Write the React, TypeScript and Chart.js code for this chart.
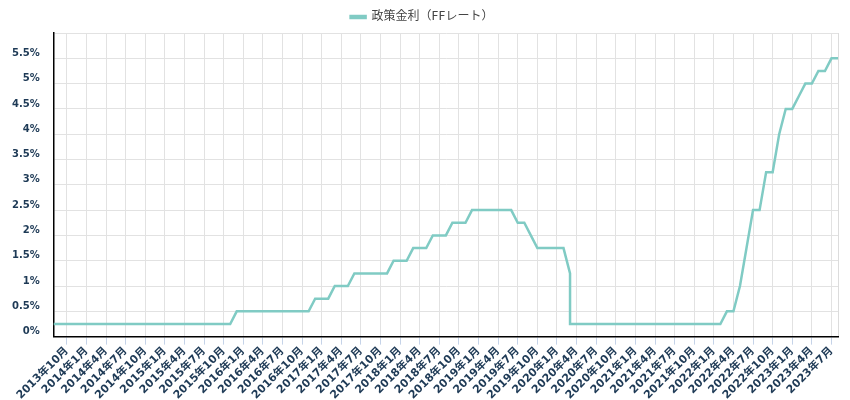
import React, { useEffect, useRef } from "react";
import { Chart, registerables } from "chart.js";

Chart.register(...registerables);

// Monthly categories from 2013年8月 to 2023年8月
const startYear = 2013;
const startMonth = 8;
const monthCount = 121;
const months: string[] = [];
for (let i = 0; i < monthCount; i++) {
  const m = startMonth - 1 + i;
  months.push(`${startYear + Math.floor(m / 12)}年${(m % 12) + 1}月`);
}

// Policy rate (upper bound of FF target), month by month
const rates: number[] = [
  // 2013-08 .. 2015-11
  0.25, 0.25, 0.25, 0.25, 0.25, 0.25, 0.25, 0.25, 0.25, 0.25, 0.25, 0.25, 0.25, 0.25,
  0.25, 0.25, 0.25, 0.25, 0.25, 0.25, 0.25, 0.25, 0.25, 0.25, 0.25, 0.25, 0.25, 0.25,
  // 2015-12 .. 2016-11
  0.5, 0.5, 0.5, 0.5, 0.5, 0.5, 0.5, 0.5, 0.5, 0.5, 0.5, 0.5,
  // 2016-12 .. 2017-02
  0.75, 0.75, 0.75,
  // 2017-03 .. 2017-05
  1.0, 1.0, 1.0,
  // 2017-06 .. 2017-11
  1.25, 1.25, 1.25, 1.25, 1.25, 1.25,
  // 2017-12 .. 2018-02
  1.5, 1.5, 1.5,
  // 2018-03 .. 2018-05
  1.75, 1.75, 1.75,
  // 2018-06 .. 2018-08
  2.0, 2.0, 2.0,
  // 2018-09 .. 2018-11
  2.25, 2.25, 2.25,
  // 2018-12 .. 2019-06
  2.5, 2.5, 2.5, 2.5, 2.5, 2.5, 2.5,
  // 2019-07 .. 2019-08
  2.25, 2.25,
  // 2019-09
  2.0,
  // 2019-10 .. 2020-02
  1.75, 1.75, 1.75, 1.75, 1.75,
  // 2020-03 (first cut)
  1.25,
  // 2020-04 .. 2022-02
  0.25, 0.25, 0.25, 0.25, 0.25, 0.25, 0.25, 0.25, 0.25, 0.25, 0.25, 0.25,
  0.25, 0.25, 0.25, 0.25, 0.25, 0.25, 0.25, 0.25, 0.25, 0.25, 0.25,
  // 2022-03 .. 2022-04
  0.5, 0.5,
  // 2022-05, 2022-06
  1.0, 1.75,
  // 2022-07 .. 2022-08
  2.5, 2.5,
  // 2022-09 .. 2022-10
  3.25, 3.25,
  // 2022-11
  4.0,
  // 2022-12 .. 2023-01
  4.5, 4.5,
  // 2023-02
  4.75,
  // 2023-03 .. 2023-04
  5.0, 5.0,
  // 2023-05 .. 2023-06
  5.25, 5.25,
  // 2023-07 .. 2023-08
  5.5, 5.5,
];

// Second cut within March 2020 (same month category)
const extraMonth = "2020年3月";
const extraRate = 0.25;

const yTicks = [0, 0.5, 1, 1.5, 2, 2.5, 3, 3.5, 4, 4.5, 5, 5.5];
const yMax = 6;
const quarterMonths = [1, 4, 7, 10];

const seriesLabel = "政策金利（FFレート）";
const lineColor = "#80cbc4";
const tickFontColor = "#1e3a56";
const FONT = "'DejaVu Sans', 'Noto Sans CJK JP', sans-serif";

function isQuarter(label: string) {
  const m = parseInt(label.split("年")[1], 10);
  return quarterMonths.includes(m);
}

export default function App() {
  const ref = useRef<HTMLCanvasElement | null>(null);

  useEffect(() => {
    if (!ref.current) return;
    const points: { x: string; y: number }[] = [];
    months.forEach((m, i) => {
      points.push({ x: m, y: rates[i] });
      if (m === extraMonth) points.push({ x: m, y: extraRate });
    });

    const chart = new Chart(ref.current, {
      type: "line",
      data: {
        labels: months,
        datasets: [
          {
            label: seriesLabel,
            data: points as any,
            borderColor: lineColor,
            backgroundColor: lineColor,
            borderWidth: 2.5,
            pointRadius: 0,
            tension: 0,
            fill: false,
          },
        ],
      },
      options: {
        animation: false,
        responsive: false,
        maintainAspectRatio: false,
        layout: { padding: { left: 6, right: 12, top: 1, bottom: -2 } },
        plugins: {
          legend: {
            display: true,
            position: "top",
            labels: {
              color: "#444",
              boxWidth: 15,
              boxHeight: 2,
              font: { family: FONT, size: 12 },
            },
          },
          tooltip: { enabled: false },
        },
        scales: {
          x: {
            type: "category",
            grid: {
              color: (ctx: any) => {
                const i = ctx.index;
                if (i === months.length - 1) return "#dcdcdc";
                return months[i] && isQuarter(months[i]) ? "#e2e2e2" : "rgba(0,0,0,0)";
              },
              tickColor: (ctx: any) => {
                const i = ctx.index;
                if (i === months.length - 1) return "rgba(0,0,0,0)";
                return months[i] && isQuarter(months[i]) ? "#c5d3e8" : "rgba(0,0,0,0)";
              },
              tickLength: 8,
            },
            border: { color: "#000", width: 1.5 },
            ticks: {
              autoSkip: false,
              maxRotation: 45,
              minRotation: 45,
              padding: 0,
              color: tickFontColor,
              font: { family: FONT, size: 11, weight: "bold" },
              callback: (_v: any, i: number) => (isQuarter(months[i]) ? months[i] : ""),
            },
          },
          y: {
            min: 0,
            max: yMax,
            afterBuildTicks: (scale: any) => {
              scale.ticks = [...yTicks, yMax].map((v) => ({ value: v }));
            },
            grid: { color: "#e2e2e2", tickColor: "rgba(0,0,0,0)", tickLength: 8 },
            border: { color: "#000", width: 1.5 },
            ticks: {
              padding: 6,
              labelOffset: -5,
              color: tickFontColor,
              font: { family: FONT, size: 10, weight: "bold" },
              callback: (v: any) => (v === yMax ? "" : `${v}%`),
            },
          },
        },
      },
    });
    return () => chart.destroy();
  }, []);

  return (
    <div style={{ position: "fixed", left: 0, top: 0, width: 850, height: 400 }}>
      <canvas ref={ref} width={850} height={400} style={{ width: 850, height: 400 }} />
    </div>
  );
}
